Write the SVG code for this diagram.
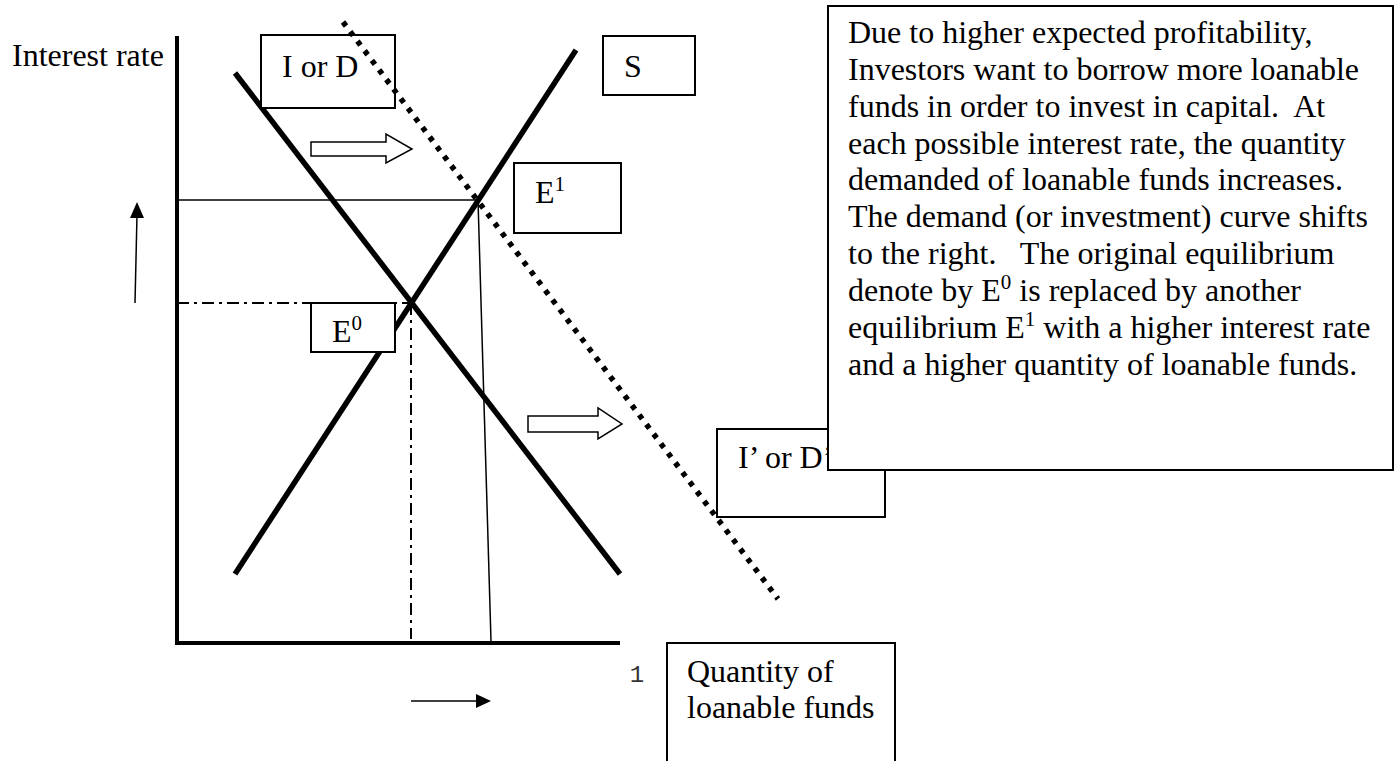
<svg xmlns="http://www.w3.org/2000/svg" width="1399" height="761" viewBox="0 0 1399 761">
<style>
text{font-family:"Liberation Serif","Times New Roman",serif;font-size:32px;fill:#000}
.sup{font-size:21px}
.box{fill:#fff;stroke:#000;stroke-width:2}
.nobox{fill:none;stroke:#000;stroke-width:2}
.axis{stroke:#000;stroke-width:4;fill:none}
.curve{stroke:#000;stroke-width:5.5;fill:none}
.thin{stroke:#000;stroke-width:1.5;fill:none}
.dashdot{stroke:#000;stroke-width:2;fill:none;stroke-dasharray:12 5 3 5}
.dotted{stroke:#000;stroke-width:5.5;fill:none;stroke-dasharray:5 7}
.hollow{fill:#fff;stroke:#000;stroke-width:1.5}
.mono{font-family:"Liberation Mono","Courier New",monospace;font-size:24px;fill:#333}
</style>
<rect width="1399" height="761" fill="#fff"/>
<g id="axes">
<line class="axis" x1="177" y1="36" x2="177" y2="645"/>
<line class="axis" x1="175" y1="643" x2="620" y2="643"/>
<text x="12" y="66">Interest rate</text>
<text class="mono" x="637" y="682" text-anchor="middle">1</text>
</g>
<g id="connectors">
<line class="thin" x1="177" y1="200" x2="478" y2="200"/>
<line class="thin" x1="478" y1="200" x2="491" y2="641"/>
<line class="dashdot" x1="177" y1="303" x2="411" y2="303"/>
<line class="dashdot" x1="411" y1="303" x2="411" y2="639"/>
<line class="thin" x1="135" y1="303" x2="137" y2="215"/>
<polygon points="137,202 144,218 130,218" fill="#000"/>
<line class="thin" x1="411" y1="701" x2="477" y2="701"/>
<polygon points="491,701 476,694 476,708" fill="#000"/>
<polygon class="hollow" points="311,142 386,142 386,134 412,149 386,163 386,156 311,156"/>
<polygon class="hollow" points="528,416 598,416 598,408 622,424 598,439 598,432 528,432"/>
</g>
<g id="curve-S">
<line class="curve" x1="576" y1="50" x2="235" y2="574"/>
</g>
<g id="curve-D">
<line class="curve" x1="235" y1="73" x2="620" y2="574"/>
</g>
<g id="label-IorD">
<rect class="box" x="261" y="35" width="134" height="73"/>
<text x="282" y="77">I or D</text>
</g>
<g id="curve-Dprime">
<line class="dotted" x1="343" y1="22" x2="778" y2="599"/>
</g>
<g id="label-S">
<rect class="box" x="603" y="36" width="92" height="59"/>
<text x="624" y="77">S</text>
</g>
<g id="label-E1">
<rect class="box" x="514" y="163" width="107" height="70"/>
<text x="535" y="203">E<tspan class="sup" dy="-12">1</tspan></text>
</g>
<g id="label-E0">
<rect class="box" x="311" y="303" width="84" height="49"/>
<text x="332" y="342">E<tspan class="sup" dy="-12">0</tspan></text>
</g>
<g id="label-IprimeorDprime">
<rect class="box" x="717" y="429" width="168" height="88"/>
<text x="738" y="468">I’ or D’</text>
</g>
<g id="label-quantity">
<rect class="box" x="667" y="643" width="228" height="130"/>
<text x="687" y="682">Quantity of</text>
<text x="687" y="718">loanable funds</text>
</g>
<g id="explanation">
<rect class="box" x="828" y="6" width="565" height="464"/>
<text x="848" y="43">Due to higher expected profitability,</text>
<text x="848" y="80">Investors want to borrow more loanable</text>
<text x="848" y="117" xml:space="preserve">funds in order to invest in capital.  At</text>
<text x="848" y="154">each possible interest rate, the quantity</text>
<text x="848" y="190">demanded of loanable funds increases.</text>
<text x="848" y="227">The demand (or investment) curve shifts</text>
<text x="848" y="264" xml:space="preserve">to the right.   The original equilibrium</text>
<text x="848" y="301">denote by E<tspan class="sup" dy="-12">0</tspan><tspan dy="12"> is replaced by another</tspan></text>
<text x="848" y="338">equilibrium E<tspan class="sup" dy="-12">1</tspan><tspan dy="12"> with a higher interest rate</tspan></text>
<text x="848" y="375">and a higher quantity of loanable funds.</text>
</g>
</svg>
